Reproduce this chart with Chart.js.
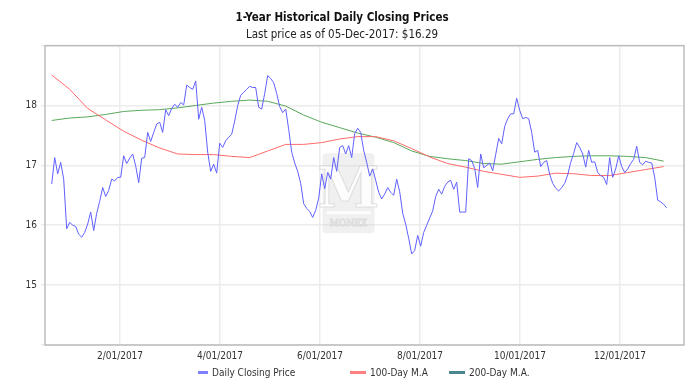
<!DOCTYPE html>
<html>
<head>
<meta charset="utf-8">
<script src="https://cdn.jsdelivr.net/npm/chart.js@4/dist/chart.umd.min.js"></script>
<style>
  html, body { margin: 0; padding: 0; background: #fff; }
  #wrap { position: relative; width: 700px; height: 390px; }
  #legend { position: absolute; left: 0; top: 366px; width: 700px; height: 14px;
            font: 10px 'DejaVu Sans Condensed', 'DejaVu Sans', sans-serif; color: #333; }
  #legend .item { position: absolute; top: 0; white-space: nowrap; line-height: 14px; }
  #legend .mark { display: inline-block; height: 3px; vertical-align: middle; margin-right: 4px; position: relative; top: -1px; }
</style>
</head>
<body>
<div id="wrap">
  <canvas id="priceChart" width="700" height="390"></canvas>
  <div id="legend"></div>
</div>
<script>
// trading-day index -> closing price
const closes = [
  16.69, 17.13, 16.86, 17.05, 16.77, 15.94, 16.05, 16.00, 15.98, 15.85,
  15.80, 15.88, 16.02, 16.22, 15.91, 16.20, 16.40, 16.63, 16.48, 16.58,
  16.77, 16.74, 16.80, 16.80, 17.16, 17.03, 17.12, 17.19, 16.99, 16.71,
  17.12, 17.13, 17.55, 17.40, 17.55, 17.69, 17.72, 17.55, 17.93, 17.83,
  17.95, 18.02, 17.97, 18.05, 18.01, 18.34, 18.30, 18.27, 18.41, 17.77,
  17.97, 17.75, 17.22, 16.90, 17.02, 16.87, 17.37, 17.30, 17.41, 17.47,
  17.52, 17.74, 18.00, 18.17, 18.22, 18.27, 18.32, 18.30, 18.30, 17.97,
  17.94, 18.20, 18.50, 18.45, 18.38, 18.20, 17.98, 17.88, 17.94, 17.60,
  17.22, 17.04, 16.90, 16.70, 16.36, 16.28, 16.23, 16.13, 16.25, 16.45,
  16.86, 16.61, 16.88, 16.77, 17.13, 16.90, 17.30, 17.33, 17.19, 17.33,
  17.13, 17.53, 17.62, 17.55, 17.25, 17.05, 16.82, 16.94, 16.75, 16.55,
  16.44, 16.52, 16.63, 16.55, 16.50, 16.77, 16.56, 16.20, 16.02, 15.78,
  15.52, 15.58, 15.83, 15.65, 15.88, 16.00, 16.12, 16.24, 16.48, 16.60,
  16.52, 16.65, 16.72, 16.75, 16.60, 16.72, 16.22, 16.22, 16.22, 17.11,
  17.08, 16.95, 16.63, 17.19, 16.96, 17.00, 17.04, 16.91, 17.18, 17.45,
  17.36, 17.65, 17.78, 17.86, 17.86, 18.12, 17.92, 17.78, 17.80, 17.78,
  17.55, 17.22, 17.25, 16.98, 17.05, 17.08, 16.85, 16.70, 16.62, 16.57,
  16.63, 16.70, 16.84, 17.05, 17.20, 17.38, 17.30, 17.19, 16.97, 17.25,
  17.05, 17.06, 16.88, 16.83, 16.80, 16.68, 17.13, 16.80, 16.94, 17.16,
  16.98, 16.88, 16.94, 17.03, 17.10, 17.32, 17.05, 17.01, 17.07, 17.05,
  17.04, 16.80, 16.42, 16.39, 16.35, 16.29
];

// moving averages, read every 6th trading day
const maDays = [0, 6, 12, 18, 24, 30, 36, 42, 48, 54, 60, 66, 72, 78, 84, 90, 96, 102,
  108, 114, 120, 126, 132, 138, 144, 150, 156, 162, 168, 174, 180, 186, 192, 198, 204];
const ma100 = [18.51, 18.27, 17.95, 17.76, 17.57, 17.42, 17.29, 17.19, 17.18, 17.18,
  17.15, 17.13, 17.24, 17.35, 17.35, 17.38, 17.44, 17.48, 17.48, 17.41, 17.28, 17.14,
  17.03, 16.97, 16.90, 16.85, 16.80, 16.82, 16.87, 16.86, 16.83, 16.83, 16.88, 16.93, 16.98];
const ma200 = [17.75, 17.79, 17.81, 17.85, 17.90, 17.92, 17.93, 17.96, 18.00, 18.04,
  18.07, 18.09, 18.07, 17.99, 17.84, 17.72, 17.63, 17.54, 17.47, 17.38, 17.24, 17.15,
  17.11, 17.08, 17.03, 17.02, 17.06, 17.10, 17.13, 17.15, 17.16, 17.16, 17.15, 17.13, 17.07];

// x axis labels and where they sit on the trading-day index
const tickDays = [22.77, 56.1, 89.43, 122.77, 156.1, 189.43];
const tickLabels = ['2/01/2017', '4/01/2017', '6/01/2017', '8/01/2017', '10/01/2017', '12/01/2017'];

const FONT = "'DejaVu Sans Condensed', 'DejaVu Sans', sans-serif";

// 灰色边框 + 水印
const framePlugin = {
    id: 'frame',
    beforeDatasetsDraw(chart) {
        const { ctx, chartArea: a } = chart;
        const cx = a.left + a.width * 0.475, cy = a.top + a.height * 0.493;
        ctx.save();
        ctx.fillStyle = 'rgba(205,205,205,0.3)';
        ctx.beginPath();
        ctx.roundRect(cx - 26, cy - 40, 52, 80, 4);
        ctx.fill();
        ctx.fillStyle = 'rgba(255,255,255,0.85)';
        ctx.strokeStyle = 'rgba(190,190,190,0.45)';
        ctx.font = "bold 56px 'DejaVu Serif', serif";
        ctx.textAlign = 'center';
        ctx.textBaseline = 'alphabetic';
        ctx.fillText('M', cx, cy + 14);
        ctx.strokeText('M', cx, cy + 14);
        ctx.fillRect(cx - 22, cy + 18, 44, 3);
        ctx.font = "9px 'DejaVu Serif', serif";
        ctx.fillText('MONEX', cx, cy + 33);
        ctx.strokeText('MONEX', cx, cy + 33);
        ctx.restore();
    },
    afterDatasetsDraw(chart) {
        const { ctx, chartArea: a } = chart;
        ctx.save();
        ctx.strokeStyle = '#bdbdbd';
        ctx.lineWidth = 1.5;
        ctx.strokeRect(a.left, a.top, a.right - a.left, a.bottom - a.top);
        ctx.restore();
    }
};

const series = [
    { label: 'Daily Closing Price', color: '#6060ff', legend: '#8080ff', pts: closes.map((v, i) => ({ x: i, y: v })), w: 10 },
    { label: '100-Day M.A', color: '#ff6a6a', legend: '#ff8080', pts: ma100.map((v, k) => ({ x: maDays[k], y: v })), w: 16 },
    { label: '200-Day M.A.', color: '#5aa85a', legend: '#4a8590', pts: ma200.map((v, k) => ({ x: maDays[k], y: v })), w: 16 }
];

new Chart(document.getElementById('priceChart'), {
    type: 'line',
    data: {
        datasets: series.map(s => ({
            label: s.label,
            data: s.pts,
            borderColor: s.color,
            borderWidth: 1,
            pointRadius: 0,
            tension: 0,
            fill: false
        }))
    },
    options: {
        responsive: false,
        animation: false,
        layout: { padding: { left: 0, right: 16, top: 0, bottom: 0 } },
        plugins: {
            legend: { display: false },
            tooltip: { enabled: false },
            title: {
                display: true,
                text: '1-Year Historical Daily Closing Prices',
                color: '#111',
                font: { family: FONT, size: 11.5, weight: 'bold' },
                padding: { top: 11, bottom: 3 }
            },
            subtitle: {
                display: true,
                text: 'Last price as of 05-Dec-2017: $16.29',
                color: '#222',
                font: { family: FONT, size: 11.5 },
                padding: { top: 0, bottom: 4 }
            }
        },
        scales: {
            x: {
                type: 'linear',
                min: -2.23,
                max: 210.77,
                afterBuildTicks: scale => { scale.ticks = tickDays.map(v => ({ value: v })); },
                afterFit: scale => { scale.height = 45; },
                ticks: {
                    color: '#333',
                    font: { family: FONT, size: 10 },
                    padding: 5,
                    maxRotation: 0,
                    callback: (v, i) => tickLabels[i]
                },
                grid: { color: '#ececec', lineWidth: 1.5, drawTicks: false },
                border: { display: false }
            },
            y: {
                min: 14,
                max: 19,
                afterFit: scale => { scale.width = 45; },
                ticks: {
                    stepSize: 1,
                    color: '#333',
                    font: { family: FONT, size: 10 },
                    padding: 4,
                    callback: v => (v === 14 || v === 19) ? '' : v
                },
                grid: { color: '#ececec', lineWidth: 1.5, tickLength: 4 },
                border: { display: false }
            }
        }
    },
    plugins: [framePlugin]
});

// 图例 (HTML)
const legendPos = [198, 350, 449];
document.getElementById('legend').innerHTML = series.map((s, i) =>
    `<span class="item" style="left:${legendPos[i]}px"><span class="mark" style="width:${s.w}px;background:${s.legend}"></span>${s.label}</span>`
).join('');
</script>
</body>
</html>
